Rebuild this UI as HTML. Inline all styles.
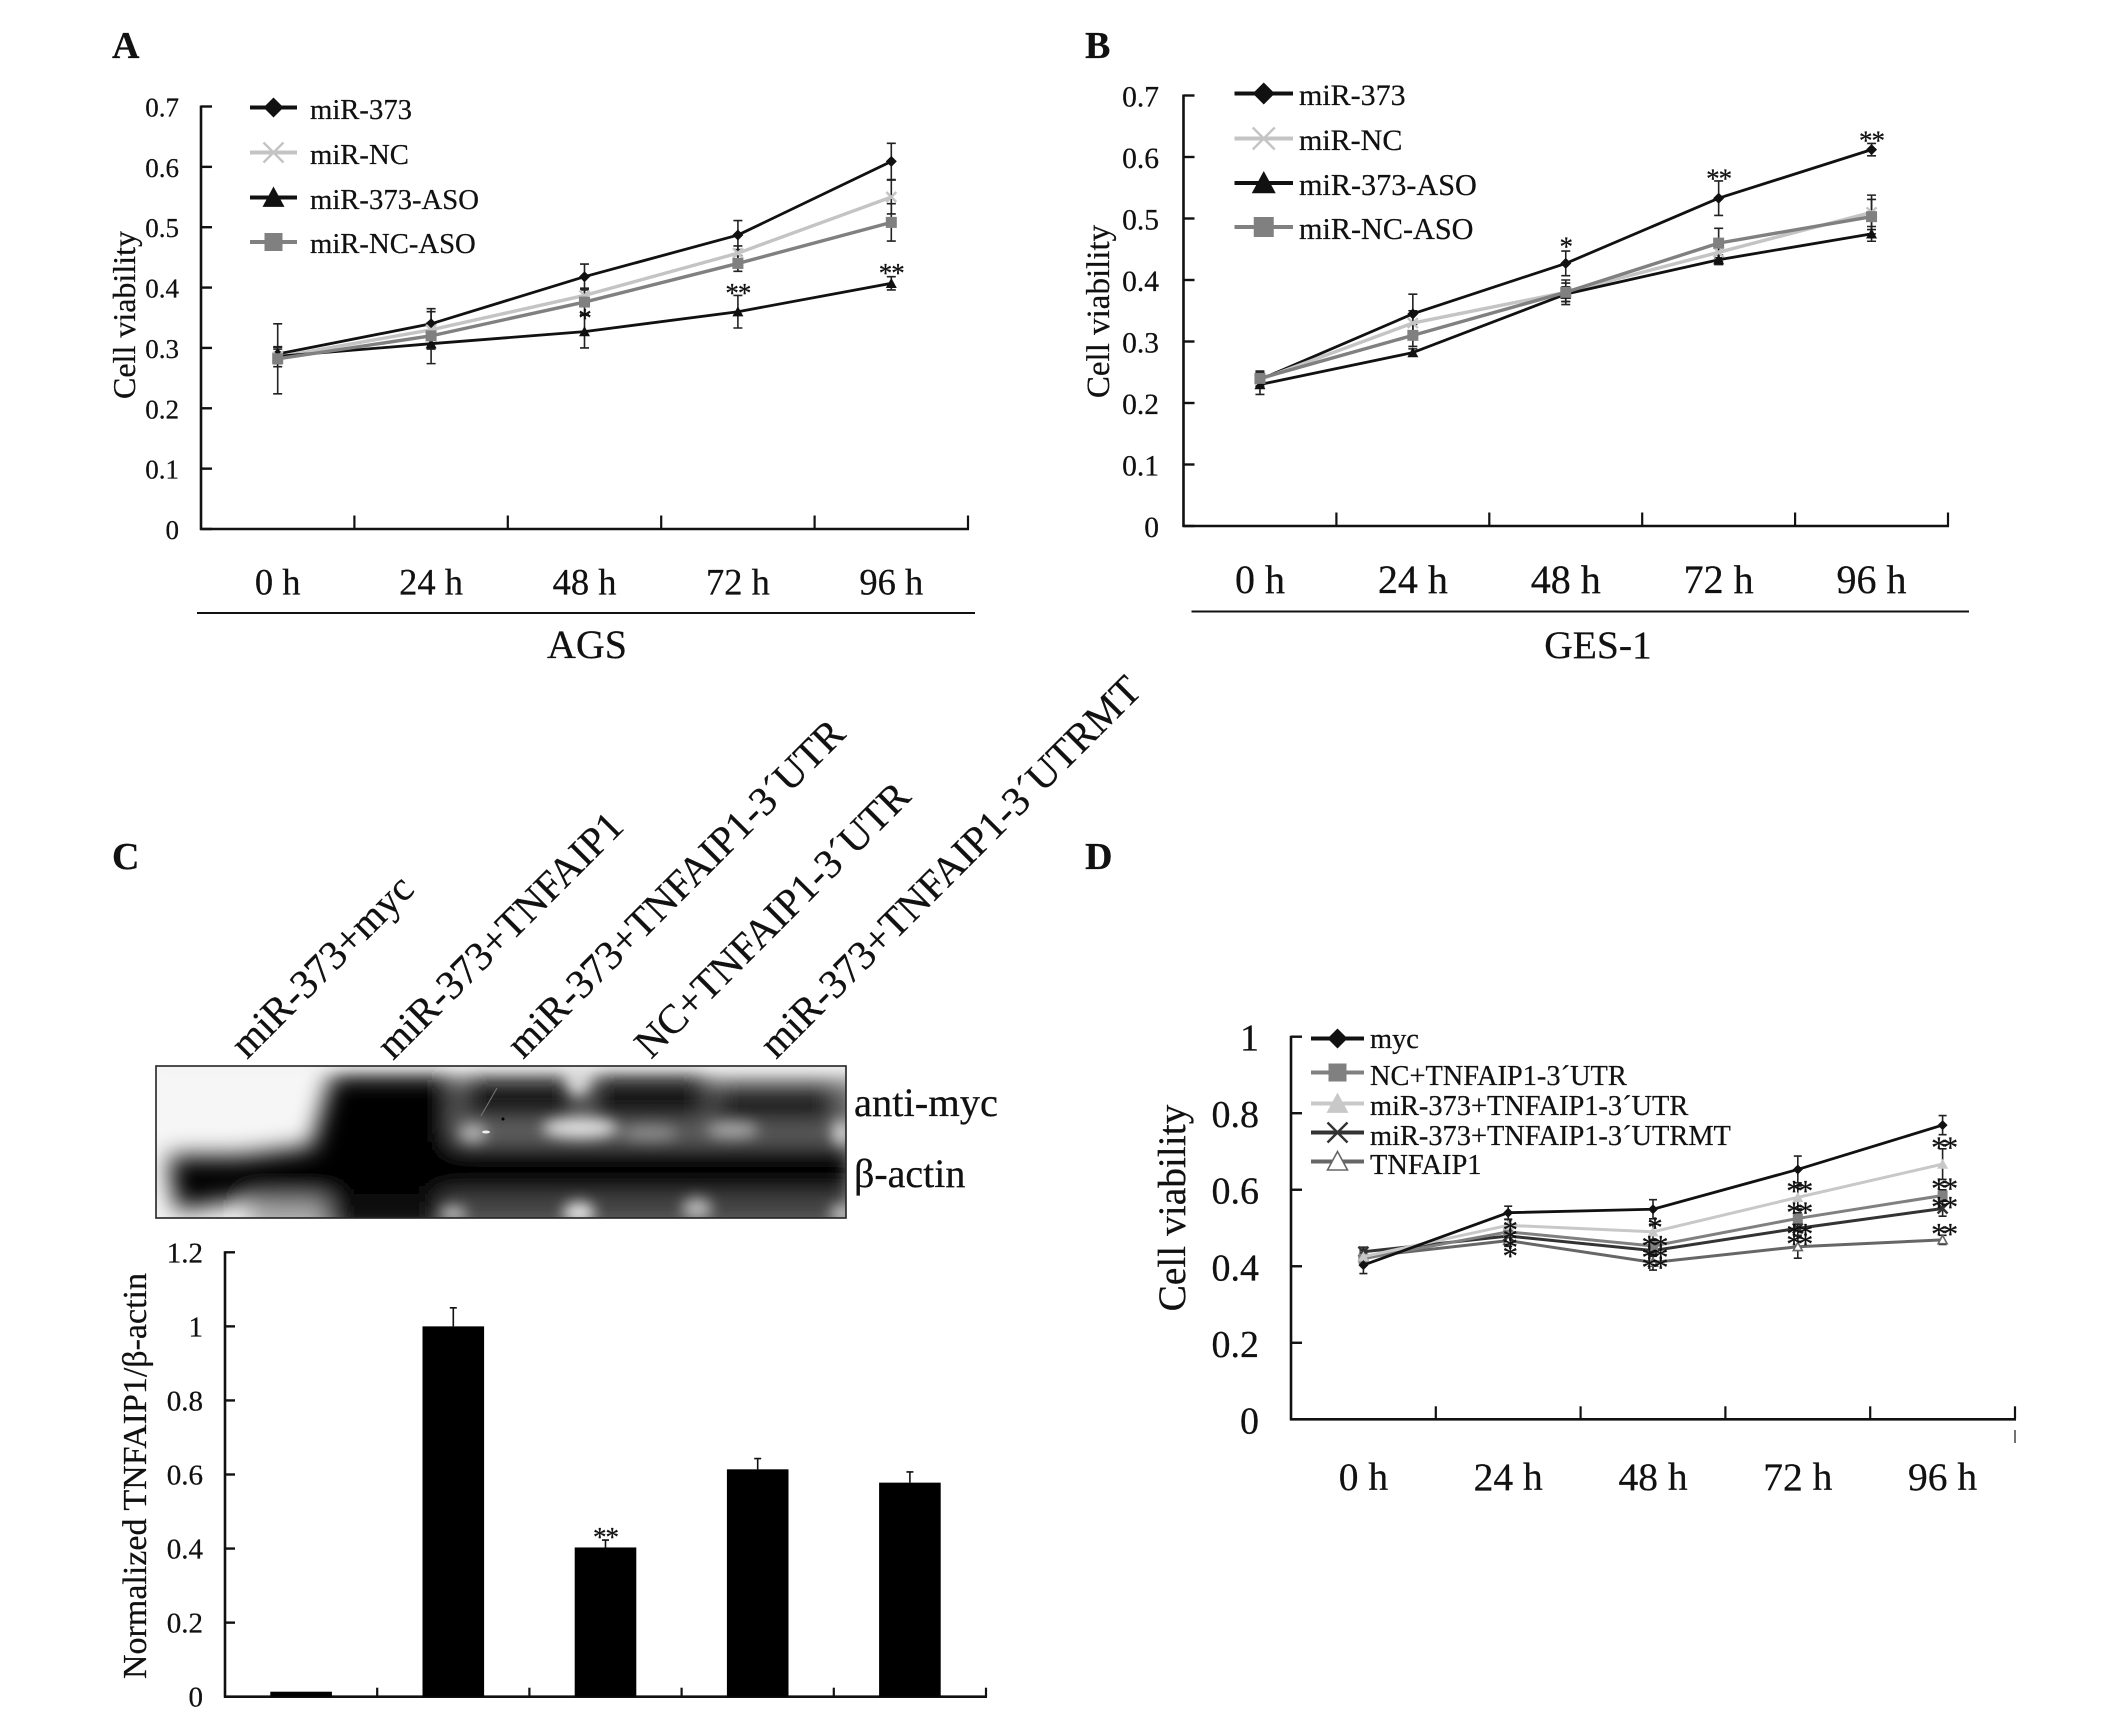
<!DOCTYPE html>
<html lang="en">
<head>
<meta charset="utf-8">
<title>Cell viability figure</title>
<style>
html,body{margin:0;padding:0;background:#fff;}
svg{display:block;}
text{font-family:"Liberation Serif",serif;fill:#111;stroke:#111;stroke-width:0.25px;}
</style>
</head>
<body>
<svg id="fig" xmlns="http://www.w3.org/2000/svg" width="2126" height="1720" viewBox="0 0 2126 1720">
  <defs>
    <filter id="blur8" filterUnits="userSpaceOnUse" x="60" y="960" width="900" height="360"><feGaussianBlur stdDeviation="12"/></filter>
    <filter id="blur4" filterUnits="userSpaceOnUse" x="60" y="960" width="900" height="360"><feGaussianBlur stdDeviation="7"/></filter>
    <clipPath id="blotClip"><rect x="156" y="1066" width="690" height="152"/></clipPath>
  </defs>
  <rect width="2126" height="1720" fill="#fff"/>

  <text x="112" y="58" font-size="38" font-weight="bold">A</text>
  <text x="1085" y="58" font-size="38" font-weight="bold">B</text>
  <text x="112" y="869" font-size="38" font-weight="bold">C</text>
  <text x="1085" y="869" font-size="38" font-weight="bold">D</text>

  <g id="panelA">
    <text transform="translate(135 315) rotate(-90)" text-anchor="middle" font-size="32">Cell viability</text>
    <line x1="197" y1="613" x2="975" y2="613" stroke="#111" stroke-width="2"/>
    <text x="587" y="658" text-anchor="middle" font-size="40">AGS</text>
    <text x="310" y="119" font-size="28.7">miR-373</text>
    <text x="310" y="164" font-size="28.7">miR-NC</text>
    <text x="310" y="209" font-size="28.7">miR-373-ASO</text>
    <text x="310" y="253" font-size="28.7">miR-NC-ASO</text>
  </g>

  <g id="panelB">
    <text transform="translate(1109 311.5) rotate(-90)" text-anchor="middle" font-size="33">Cell viability</text>
    <line x1="1191.5" y1="611.5" x2="1969" y2="611.5" stroke="#111" stroke-width="2"/>
    <text x="1598" y="658" text-anchor="middle" font-size="39.5">GES-1</text>
    <text x="1299" y="105" font-size="30">miR-373</text>
    <text x="1299" y="150" font-size="30">miR-NC</text>
    <text x="1299" y="195" font-size="30.2">miR-373-ASO</text>
    <text x="1299" y="239" font-size="30.2">miR-NC-ASO</text>
  </g>

  <g id="panelC">
    <text transform="translate(247 1060) rotate(-45)" font-size="40.9">miR-373+myc</text>
    <text transform="translate(393 1061) rotate(-45)" font-size="40.9">miR-373+TNFAIP1</text>
    <text transform="translate(523 1060) rotate(-45)" font-size="40.9">miR-373+TNFAIP1-3´UTR</text>
    <text transform="translate(651 1060) rotate(-45)" font-size="40.9">NC+TNFAIP1-3´UTR</text>
    <text transform="translate(776 1060) rotate(-45)" font-size="40.9">miR-373+TNFAIP1-3´UTRMT</text>

    <g clip-path="url(#blotClip)">
      <rect x="156" y="1066" width="690" height="152" fill="#f6f6f6"/>
      <g filter="url(#blur8)">
        <rect x="445" y="1080" width="420" height="66" fill="#707070"/>
        <rect x="250" y="1198" width="80" height="34" fill="#a8a8a8"/>
        <rect x="325" y="1185" width="530" height="50" fill="#484848"/>
        <rect x="332" y="1185" width="108" height="50" fill="#111"/>
        <polygon points="332,1074 452,1074 452,1145 312,1145" fill="#000"/>
        <rect x="462" y="1076" width="114" height="46" rx="10" fill="#141414"/>
        <rect x="590" y="1074" width="118" height="50" rx="10" fill="#141414"/>
        <rect x="714" y="1084" width="122" height="42" rx="10" fill="#1c1c1c"/>
        <polygon points="168,1156 240,1156 330,1144 330,1200 240,1200 176,1210" fill="#000"/>
        <rect x="325" y="1142" width="530" height="52" fill="#000"/>
      </g>
      <g filter="url(#blur4)">
        <ellipse cx="580" cy="1128" rx="38" ry="10" fill="#e0e0e0"/>
        <ellipse cx="473" cy="1133" rx="14" ry="9" fill="#b4b4b4"/>
        <ellipse cx="650" cy="1133" rx="28" ry="7" fill="#8e8e8e"/>
        <ellipse cx="733" cy="1130" rx="26" ry="8" fill="#a8a8a8"/>
        <ellipse cx="842" cy="1133" rx="10" ry="13" fill="#d0d0d0"/>
        <ellipse cx="578" cy="1074" rx="12" ry="22" fill="#d8d8d8"/>
        <ellipse cx="453" cy="1214" rx="14" ry="8" fill="#bbb"/>
        <ellipse cx="579" cy="1213" rx="16" ry="11" fill="#e4e4e4"/>
        <ellipse cx="697" cy="1209" rx="15" ry="11" fill="#b8b8b8"/>
        <ellipse cx="842" cy="1214" rx="12" ry="9" fill="#c4c4c4"/>
        <rect x="156" y="1056" width="700" height="12" fill="#f0f0f0"/>
      </g>
      <line x1="497" y1="1088" x2="481" y2="1116" stroke="#777" stroke-width="1"/>
      <circle cx="503" cy="1119" r="1.5" fill="#000"/>
      <ellipse cx="486" cy="1132" rx="4" ry="1.5" fill="#eee"/>
    </g>
    <rect x="156" y="1066" width="690" height="152" fill="none" stroke="#222" stroke-width="1.6"/>
    <text x="854" y="1116" font-size="40.5">anti-myc</text>
    <text x="854" y="1187" font-size="40">β-actin</text>
  </g>

  <g id="panelCBars">
    <text transform="translate(146 1476) rotate(-90)" text-anchor="middle" font-size="34">Normalized TNFAIP1/β-actin</text>
  </g>

  <g id="panelD">
    <text transform="translate(1185 1208) rotate(-90)" text-anchor="middle" font-size="39.4">Cell viability</text>
    <line x1="2015" y1="1430" x2="2015" y2="1443" stroke="#444" stroke-width="1.5"/>
    <text x="1370" y="1048" font-size="28.4">myc</text>
    <text x="1370" y="1085" font-size="28.4">NC+TNFAIP1-3´UTR</text>
    <text x="1370" y="1115" font-size="28.4">miR-373+TNFAIP1-3´UTR</text>
    <text x="1370" y="1145" font-size="28.4">miR-373+TNFAIP1-3´UTRMT</text>
    <text x="1370" y="1174" font-size="28.4">TNFAIP1</text>
  </g>
</svg>

<script>
// ---------- shared categories ----------
const hourLabels = ['0 h', '24 h', '48 h', '72 h', '96 h'];

// ---------- panel A ----------
const aTicks = [0, 0.1, 0.2, 0.3, 0.4, 0.5, 0.6, 0.7];
const aTickLabels = ['0', '0.1', '0.2', '0.3', '0.4', '0.5', '0.6', '0.7'];
const aMir373 = [0.29, 0.34, 0.418, 0.487, 0.609];
const aMir373Err = [0.012, 0.025, 0.021, 0.024, 0.03];
const aMirNC = [0.285, 0.33, 0.387, 0.457, 0.55];
const aMirNCErr = [0.016, 0.03, 0.012, 0.012, 0.028];
const aAso = [0.286, 0.307, 0.327, 0.36, 0.407];
const aAsoErr = [0.012, 0.033, 0.027, 0.027, 0.011];
const aNcAso = [0.282, 0.32, 0.376, 0.44, 0.508];
const aNcAsoErr = [0.058, 0.022, 0.02, 0.013, 0.031];
const aStarLabels = ['*', '**', '**'];
const aStarCats = [2, 3, 4];
const aStarValues = [0.355, 0.397, 0.43];

// ---------- panel B ----------
const bTicks = [0, 0.1, 0.2, 0.3, 0.4, 0.5, 0.6, 0.7];
const bTickLabels = ['0', '0.1', '0.2', '0.3', '0.4', '0.5', '0.6', '0.7'];
const bMir373 = [0.238, 0.345, 0.427, 0.533, 0.612];
const bMir373Err = [0.012, 0.032, 0.02, 0.028, 0.01];
const bMirNC = [0.238, 0.33, 0.38, 0.445, 0.51];
const bMirNCErr = [0.012, 0.02, 0.015, 0.015, 0.028];
const bAso = [0.23, 0.282, 0.377, 0.433, 0.475];
const bAsoErr = [0.016, 0.006, 0.012, 0.008, 0.012];
const bNcAso = [0.24, 0.31, 0.38, 0.46, 0.503];
const bNcAsoErr = [0.012, 0.018, 0.02, 0.024, 0.028];
const bStarLabels = ['*', '**', '**'];
const bStarCats = [2, 3, 4];
const bStarValues = [0.46, 0.571, 0.632];

// ---------- panel C bars ----------
const cTicks = [0, 0.2, 0.4, 0.6, 0.8, 1, 1.2];
const cTickLabels = ['0', '0.2', '0.4', '0.6', '0.8', '1', '1.2'];
const cBarValues = [0.0135, 1.0, 0.403, 0.614, 0.578];
const cBarErrs = [0, 0.05, 0.02, 0.029, 0.029];
const cStarLabels = ['**'];
const cStarCats = [2];
const cStarValues = [0.441];

// ---------- panel D ----------
const dTicks = [0, 0.2, 0.4, 0.6, 0.8, 1];
const dTickLabels = ['0', '0.2', '0.4', '0.6', '0.8', '1'];
const dMyc = [0.403, 0.54, 0.549, 0.653, 0.769];
const dMycErr = [0.022, 0.017, 0.025, 0.035, 0.025];
const dNcUtr = [0.42, 0.49, 0.453, 0.525, 0.585];
const dNcUtrErr = [0.015, 0.02, 0.015, 0.015, 0.015];
const dMirUtr = [0.425, 0.507, 0.49, 0.58, 0.667];
const dMirUtrErr = [0.015, 0.015, 0.02, 0.03, 0.04];
const dMirUtrmt = [0.438, 0.479, 0.441, 0.499, 0.551];
const dMirUtrmtErr = [0.012, 0.02, 0.015, 0.02, 0.02];
const dTnfaip1 = [0.425, 0.467, 0.41, 0.451, 0.469];
const dTnfaip1Err = [0.02, 0.015, 0.02, 0.03, 0.012];
const dStarLabels = ['*','*','*','*','*','**','**','**','**','**','**','**','**','**','**','**'];
const dStarCats = [1,1,1,1,2,2,2,2,3,3,3,3,4,4,4,4];
const dStarValues = [0.506,0.482,0.46,0.438,0.512,0.464,0.434,0.408,0.608,0.551,0.495,0.469,0.721,0.615,0.566,0.495];

const NS = 'http://www.w3.org/2000/svg';
function mk(parent, tag, attrs) {
  const e = document.createElementNS(NS, tag);
  for (const k in attrs) e.setAttribute(k, attrs[k]);
  parent.appendChild(e);
  return e;
}

function drawMarker(parent, kind, cx, cy, r, color) {
  let m;
  if (kind === 'diamond') {
    m = mk(parent, 'polygon', {points: `${cx},${cy-r} ${cx+r},${cy} ${cx},${cy+r} ${cx-r},${cy}`, fill: color});
  } else if (kind === 'square') {
    m = mk(parent, 'rect', {x: cx-r, y: cy-r, width: 2*r, height: 2*r, fill: color});
  } else if (kind === 'triangle') {
    m = mk(parent, 'polygon', {points: `${cx},${cy-r} ${cx+r},${cy+r*0.85} ${cx-r},${cy+r*0.85}`, fill: color});
  } else if (kind === 'opentriangle') {
    m = mk(parent, 'polygon', {points: `${cx},${cy-r} ${cx+r},${cy+r*0.85} ${cx-r},${cy+r*0.85}`, fill: '#fff', stroke: color, 'stroke-width': 1.6});
  } else {
    m = mk(parent, 'path', {d: `M${cx-r} ${cy-r}L${cx+r} ${cy+r}M${cx+r} ${cy-r}L${cx-r} ${cy+r}`, fill: 'none', stroke: color, 'stroke-width': 2.4});
  }
  
  
}

function drawAxes(g, c) {
  const sy = v => c.y0 - (v / c.yMax) * (c.y0 - c.yTop);
  const n = hourLabels.length;
  const step = (c.xEnd - c.x0) / n;
  const yAxis = mk(g, 'line', {x1: c.x0, y1: c.yTop - 1, x2: c.x0, y2: c.y0 + 1, stroke: '#111', 'stroke-width': 2.6});
  
  
  const xAxis = mk(g, 'line', {x1: c.x0 - 1, y1: c.y0, x2: c.xEnd + 1, y2: c.y0, stroke: '#111', 'stroke-width': 2.6});
  
  
  c.ticks.forEach((v, i) => {
    const t = mk(g, 'line', {x1: c.x0, y1: sy(v), x2: c.x0 + c.tickLen, y2: sy(v), stroke: '#111', 'stroke-width': 2.4});
    
    
    const l = mk(g, 'text', {x: c.labelRight, y: sy(v) + c.labelDy, 'text-anchor': 'end', 'font-size': c.tickFont});
    
    
    l.textContent = c.tickLabels[i];
  });
  for (let i = 1; i <= n; i++) {
    const t = mk(g, 'line', {x1: c.x0 + i * step, y1: c.y0, x2: c.x0 + i * step, y2: c.y0 - c.xTickLen, stroke: '#111', 'stroke-width': 2.2});
    
    
  }
  if (c.xFont) {
    hourLabels.forEach((s, i) => {
      const l = mk(g, 'text', {x: c.x0 + (i + 0.5) * step, y: c.xBase, 'text-anchor': 'middle', 'font-size': c.xFont});
      
      
      l.textContent = s;
    });
  }
  return {sy, sx: i => c.x0 + (i + 0.5) * step};
}

function drawStars(g, s, labels, cats, values, font, spacing) {
  labels.forEach((lab, i) => {
    const t = mk(g, 'text', {x: s.sx(cats[i]), y: s.sy(values[i]) + font * 0.46, 'text-anchor': 'middle', 'font-size': font, 'letter-spacing': spacing});
    
    
    t.textContent = lab;
  });
}

function drawLineChart(g, c) {
  const s = drawAxes(g, c);
  c.series.forEach(ser => {
    ser.values.forEach((v, i) => {
      const x = s.sx(i), e = ser.errs[i];
      const bar = mk(g, 'path', {d: `M${x} ${s.sy(v - e)}V${s.sy(v + e)}M${x - c.cap} ${s.sy(v - e)}H${x + c.cap}M${x - c.cap} ${s.sy(v + e)}H${x + c.cap}`, fill: 'none', stroke: '#222', 'stroke-width': 1.6});
      
      
    });
  });
  c.series.forEach(ser => {
    const pts = ser.values.map((v, i) => s.sx(i) + ',' + s.sy(v)).join(' ');
    const line = mk(g, 'polyline', {points: pts, fill: 'none', stroke: ser.color, 'stroke-width': ser.width});
    
    
    ser.values.forEach((v, i) => drawMarker(g, ser.marker, s.sx(i), s.sy(v), ser.r, ser.color));
  });
  c.series.forEach(ser => {
    const ly = c.legendY[ser.slot];
    const ll = mk(g, 'line', {x1: c.legendX1, y1: ly, x2: c.legendX2, y2: ly, stroke: ser.color, 'stroke-width': 4});
    
    
    drawMarker(g, ser.marker, (c.legendX1 + c.legendX2) / 2, ly, ser.legendR, ser.color);
  });
  drawStars(g, s, c.starLabels, c.starCats, c.starValues, c.starFont, c.starSpacing);
}

drawLineChart(document.getElementById('panelA'), {
  x0: 201, xEnd: 968, y0: 529, yTop: 106.5, yMax: 0.7, ticks: aTicks, tickLabels: aTickLabels,
  tickLen: 11, xTickLen: 13.5, labelRight: 179, labelDy: 10, tickFont: 27, xFont: 36.5, xBase: 594.5, cap: 4.5,
  legendX1: 250, legendX2: 297, legendY: [107.5, 152.5, 197.5, 242],
  series: [
    {values: aMir373, errs: aMir373Err, color: '#111', marker: 'diamond', width: 2.8, r: 5.5, legendR: 10, slot: 0},
    {values: aMirNC, errs: aMirNCErr, color: '#c4c4c4', marker: 'x', width: 3.4, r: 5, legendR: 10, slot: 1},
    {values: aAso, errs: aAsoErr, color: '#111', marker: 'triangle', width: 2.8, r: 5.5, legendR: 11, slot: 2},
    {values: aNcAso, errs: aNcAsoErr, color: '#808080', marker: 'square', width: 3.4, r: 5.5, legendR: 9, slot: 3}
  ],
  starLabels: aStarLabels, starCats: aStarCats, starValues: aStarValues, starFont: 27, starSpacing: -1
});

drawLineChart(document.getElementById('panelB'), {
  x0: 1183.5, xEnd: 1948, y0: 526, yTop: 95.5, yMax: 0.7, ticks: bTicks, tickLabels: bTickLabels,
  tickLen: 11, xTickLen: 13.5, labelRight: 1159, labelDy: 11, tickFont: 29.5, xFont: 40, xBase: 593, cap: 4.5,
  legendX1: 1234.5, legendX2: 1293, legendY: [93.5, 138.5, 183, 227],
  series: [
    {values: bMir373, errs: bMir373Err, color: '#111', marker: 'diamond', width: 2.8, r: 5.5, legendR: 11, slot: 0},
    {values: bMirNC, errs: bMirNCErr, color: '#c4c4c4', marker: 'x', width: 3.4, r: 5, legendR: 11, slot: 1},
    {values: bAso, errs: bAsoErr, color: '#111', marker: 'triangle', width: 2.8, r: 5.5, legendR: 12, slot: 2},
    {values: bNcAso, errs: bNcAsoErr, color: '#808080', marker: 'square', width: 3.4, r: 5.5, legendR: 10, slot: 3}
  ],
  starLabels: bStarLabels, starCats: bStarCats, starValues: bStarValues, starFont: 27, starSpacing: -1
});

drawLineChart(document.getElementById('panelD'), {
  x0: 1291, xEnd: 2015, y0: 1419.3, yTop: 1036.7, yMax: 1, ticks: dTicks, tickLabels: dTickLabels,
  tickLen: 11, xTickLen: 13, labelRight: 1259, labelDy: 14, tickFont: 38, xFont: 39.5, xBase: 1490, cap: 4,
  legendX1: 1311, legendX2: 1364, legendY: [1038.5, 1072.5, 1103.5, 1132.5, 1161.5],
  series: [
    {values: dTnfaip1, errs: dTnfaip1Err, color: '#666', marker: 'opentriangle', width: 3, r: 4.5, legendR: 10, slot: 4},
    {values: dMirUtrmt, errs: dMirUtrmtErr, color: '#333', marker: 'x', width: 3, r: 5, legendR: 10, slot: 3},
    {values: dNcUtr, errs: dNcUtrErr, color: '#808080', marker: 'square', width: 3, r: 5, legendR: 9, slot: 1},
    {values: dMirUtr, errs: dMirUtrErr, color: '#c8c8c8', marker: 'triangle', width: 3, r: 5.5, legendR: 11, slot: 2},
    {values: dMyc, errs: dMycErr, color: '#111', marker: 'diamond', width: 2.8, r: 5, legendR: 10, slot: 0}
  ],
  starLabels: dStarLabels, starCats: dStarCats, starValues: dStarValues, starFont: 31, starSpacing: -4
});

(function drawBars() {
  const g = document.getElementById('panelCBars');
  const c = {
    x0: 225, xEnd: 986, y0: 1696.7, yTop: 1252.3, yMax: 1.2, ticks: cTicks, tickLabels: cTickLabels,
    tickLen: 10, xTickLen: 9, labelRight: 203, labelDy: 10, tickFont: 29
  };
  const s = drawAxes(g, c);
  const barW = 61.6;
  cBarValues.forEach((v, i) => {
    const x = s.sx(i);
    const e = cBarErrs[i];
    if (e > 0) {
      const err = mk(g, 'path', {d: `M${x} ${s.sy(v)}V${s.sy(v + e)}M${x - 3.5} ${s.sy(v + e)}H${x + 3.5}`, fill: 'none', stroke: '#111', 'stroke-width': 1.6});
      
      
    }
    const b = mk(g, 'rect', {x: x - barW / 2, y: s.sy(v), width: barW, height: c.y0 - s.sy(v), fill: '#000'});
    
    
  });
  drawStars(g, s, cStarLabels, cStarCats, cStarValues, 27, -1);
})();
</script>
</body>
</html>
